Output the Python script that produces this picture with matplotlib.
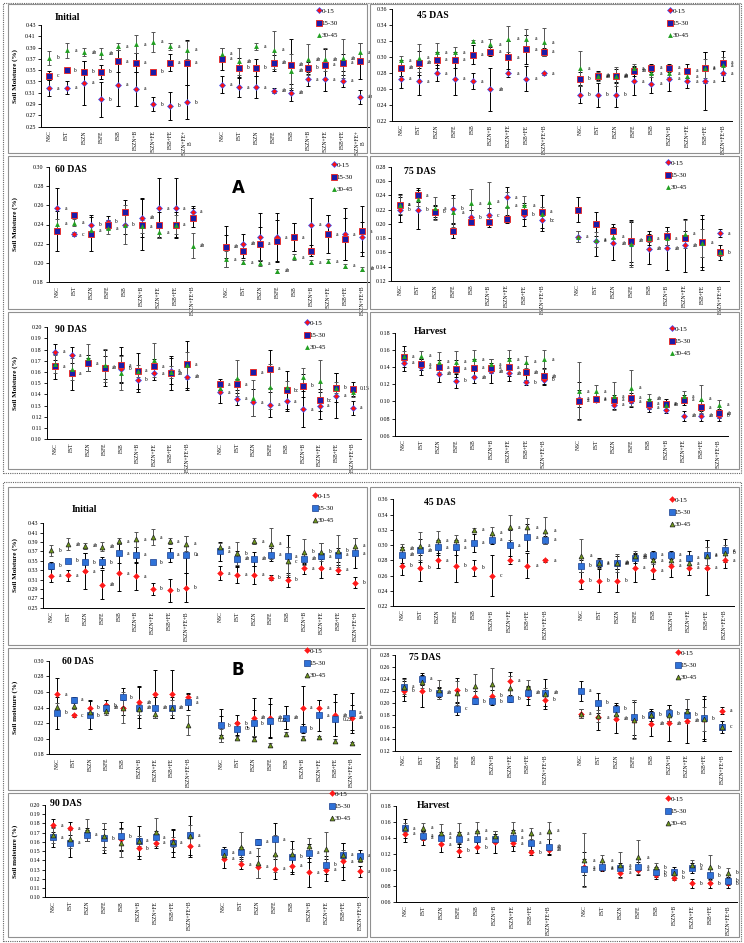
import matplotlib
matplotlib.use('Agg')
import matplotlib.pyplot as plt
from matplotlib.patches import Rectangle

plt.rcParams['font.family'] = ['Liberation Serif', 'DejaVu Serif']

# --- categories ---
cats = ['NSC', 'FST', 'FSZN', 'FSFE', 'FSB', 'FSZN+B', 'FSZN+FE', 'FSB+FE', 'FSZN+FE+B']
depths = ['0-15', '15-30', '30-45']

# --- Initial ---
ini_d1 = [0.318, 0.319, 0.328, 0.299, 0.324, 0.317, 0.290, 0.287, 0.293,
          0.324, 0.320, 0.320, 0.314, 0.310, 0.334, 0.334, 0.331, 0.303]
ini_e1 = [0.014, 0.012, 0.039, 0.031, 0.038, 0.030, 0.013, 0.025, 0.030,
          0.015, 0.018, 0.020, 0.005, 0.015, 0.012, 0.020, 0.010, 0.012]
ini_d2 = [0.340, 0.350, 0.347, 0.347, 0.366, 0.363, 0.347, 0.363, 0.363,
          0.370, 0.354, 0.354, 0.363, 0.360, 0.354, 0.360, 0.363, 0.366]
ini_e2 = [0.008, 0.003, 0.020, 0.012, 0.020, 0.017, 0.004, 0.015, 0.040,
          0.020, 0.017, 0.015, 0.014, 0.045, 0.010, 0.028, 0.015, 0.032]
ini_d3 = [0.372, 0.385, 0.382, 0.380, 0.392, 0.396, 0.400, 0.392, 0.386,
          0.379, 0.366, 0.392, 0.386, 0.349, 0.369, 0.369, 0.371, 0.382]
ini_e3 = [0.012, 0.013, 0.007, 0.010, 0.007, 0.016, 0.017, 0.007, 0.016,
          0.010, 0.024, 0.007, 0.033, 0.030, 0.028, 0.020, 0.035, 0.017]

# --- 45 DAS ---
d45_d1 = [0.273, 0.270, 0.280, 0.273, 0.270, 0.260, 0.280, 0.273, 0.280,
          0.253, 0.253, 0.253, 0.270, 0.267, 0.273, 0.270, 0.270, 0.280]
d45_e1 = [0.012, 0.017, 0.010, 0.021, 0.010, 0.027, 0.005, 0.016, 0.002,
          0.011, 0.015, 0.015, 0.018, 0.012, 0.015, 0.009, 0.036, 0.010]
d45_d2 = [0.287, 0.293, 0.297, 0.297, 0.303, 0.307, 0.300, 0.310, 0.307,
          0.273, 0.277, 0.277, 0.283, 0.287, 0.287, 0.283, 0.287, 0.293]
d45_e2 = [0.010, 0.015, 0.010, 0.010, 0.012, 0.006, 0.020, 0.018, 0.005,
          0.008, 0.006, 0.008, 0.006, 0.005, 0.005, 0.009, 0.019, 0.015]
d45_d3 = [0.296, 0.299, 0.306, 0.306, 0.320, 0.316, 0.323, 0.323, 0.319,
          0.286, 0.276, 0.276, 0.286, 0.280, 0.280, 0.276, 0.286, 0.290]
d45_e3 = [0.006, 0.018, 0.012, 0.007, 0.002, 0.007, 0.016, 0.012, 0.018,
          0.022, 0.006, 0.012, 0.006, 0.005, 0.005, 0.006, 0.012, 0.010]

# --- 60 DAS ---
d60_d1 = [0.257, 0.230, 0.240, 0.243, 0.240, 0.247, 0.257, 0.257, 0.253,
          0.217, 0.220, 0.227, 0.227, 0.227, 0.240, 0.240, 0.230, 0.227]
d60_e1 = [0.021, 0.002, 0.010, 0.006, 0.010, 0.020, 0.031, 0.031, 0.006,
          0.012, 0.010, 0.025, 0.025, 0.015, 0.027, 0.010, 0.027, 0.016]
d60_d2 = [0.233, 0.250, 0.230, 0.240, 0.253, 0.240, 0.240, 0.240, 0.247,
          0.217, 0.213, 0.220, 0.223, 0.227, 0.213, 0.230, 0.225, 0.233]
d60_e2 = [0.021, 0.003, 0.018, 0.005, 0.012, 0.026, 0.013, 0.013, 0.010,
          0.021, 0.008, 0.017, 0.022, 0.015, 0.006, 0.020, 0.022, 0.026]
d60_d3 = [0.241, 0.242, 0.234, 0.236, 0.240, 0.238, 0.232, 0.240, 0.218,
          0.204, 0.201, 0.200, 0.192, 0.206, 0.201, 0.202, 0.197, 0.194]
d60_e3 = [0.005, 0.004, 0.005, 0.006, 0.020, 0.007, 0.006, 0.010, 0.013,
          0.008, 0.002, 0.003, 0.002, 0.003, 0.002, 0.002, 0.002, 0.002]

# --- 75 DAS ---
d75_d1 = [0.220, 0.220, 0.217, 0.221, 0.209, 0.212, 0.237, 0.213, 0.205,
          0.182, 0.176, 0.173, 0.172, 0.165, 0.166, 0.170, 0.173, 0.187]
d75_e1 = [0.017, 0.027, 0.008, 0.020, 0.010, 0.010, 0.014, 0.016, 0.015,
          0.008, 0.021, 0.023, 0.030, 0.021, 0.030, 0.037, 0.034, 0.006]
d75_d2 = [0.227, 0.240, 0.217, 0.190, 0.203, 0.203, 0.207, 0.217, 0.217,
          0.220, 0.200, 0.190, 0.176, 0.180, 0.183, 0.180, 0.174, 0.160]
d75_e2 = [0.015, 0.010, 0.010, 0.010, 0.005, 0.007, 0.006, 0.010, 0.023,
          0.017, 0.017, 0.010, 0.029, 0.010, 0.013, 0.010, 0.038, 0.010]
d75_d3 = [0.227, 0.235, 0.222, 0.216, 0.229, 0.231, 0.225, 0.226, 0.214,
          0.182, 0.178, 0.182, 0.172, 0.180, 0.180, 0.186, 0.173, 0.160]
d75_e3 = [0.013, 0.010, 0.016, 0.020, 0.020, 0.027, 0.020, 0.013, 0.010,
          0.008, 0.010, 0.010, 0.032, 0.005, 0.010, 0.020, 0.020, 0.005]

# --- 90 DAS ---
d90_d1 = [0.178, 0.175, 0.167, 0.164, 0.163, 0.153, 0.159, 0.161, 0.156,
          0.142, 0.136, 0.133, 0.131, 0.134, 0.127, 0.130, 0.139, 0.128]
d90_e1 = [0.007, 0.007, 0.006, 0.016, 0.012, 0.011, 0.006, 0.012, 0.012,
          0.010, 0.005, 0.012, 0.011, 0.009, 0.016, 0.012, 0.020, 0.006]
d90_d2 = [0.165, 0.159, 0.168, 0.164, 0.166, 0.161, 0.165, 0.159, 0.167,
          0.149, 0.149, 0.160, 0.163, 0.144, 0.148, 0.135, 0.146, 0.145]
d90_e2 = [0.011, 0.015, 0.007, 0.010, 0.016, 0.016, 0.007, 0.015, 0.021,
          0.005, 0.005, 0.003, 0.017, 0.017, 0.010, 0.010, 0.013, 0.006]
d90_d3 = [0.167, 0.163, 0.173, 0.166, 0.159, 0.161, 0.171, 0.160, 0.166,
          0.146, 0.155, 0.137, 0.147, 0.147, 0.156, 0.152, 0.146, 0.142]
d90_e3 = [0.008, 0.010, 0.012, 0.015, 0.015, 0.005, 0.015, 0.005, 0.012,
          0.005, 0.016, 0.016, 0.020, 0.005, 0.008, 0.019, 0.005, 0.004]

# --- Harvest ---
hv_d1 = [0.145, 0.140, 0.132, 0.124, 0.128, 0.135, 0.133, 0.122, 0.125,
         0.103, 0.102, 0.096, 0.100, 0.093, 0.090, 0.083, 0.083, 0.083]
hv_e1 = [0.010, 0.009, 0.010, 0.008, 0.007, 0.014, 0.009, 0.003, 0.005,
         0.010, 0.003, 0.005, 0.006, 0.005, 0.003, 0.006, 0.006, 0.006]
hv_d2 = [0.152, 0.143, 0.140, 0.138, 0.139, 0.139, 0.140, 0.134, 0.129,
         0.101, 0.103, 0.102, 0.104, 0.097, 0.097, 0.102, 0.093, 0.086]
hv_e2 = [0.012, 0.006, 0.008, 0.010, 0.010, 0.006, 0.010, 0.010, 0.010,
         0.021, 0.003, 0.006, 0.006, 0.006, 0.006, 0.006, 0.008, 0.005]
hv_d3 = [0.153, 0.153, 0.146, 0.146, 0.149, 0.143, 0.149, 0.146, 0.149,
         0.112, 0.112, 0.106, 0.116, 0.103, 0.096, 0.106, 0.103, 0.096]
hv_e3 = [0.006, 0.006, 0.012, 0.013, 0.011, 0.006, 0.011, 0.007, 0.011,
         0.034, 0.007, 0.016, 0.021, 0.006, 0.003, 0.006, 0.016, 0.006]

# --- significance letters (0-15 / 15-30 / 30-45), '-' = none ---
ini_la = ["a a a b a a b b b a a a ab ab a a a ab",
          "c b b b a a b a a a b b ab ab b a a a",
          "b a ab ab a a a a a a ab a a ab ab ab ab a"]
ini_lb = ["a a a ab a a b b b a a a b b a a a b",
          "b b b b a a b a 0a a ab ab a a ab a a a",
          "b ab ab ab a a a a a a b a a c b b b a"]
d45_la = ["a a a a a ab a a a b b b a a a a a a",
          "ab ab a a a a a a a b ab ab ab a a a a a",
          "a a a a a a a a a a ab ab a a a a a a"]
d45_lb = ["b b a b b c a a a b b b a a a a a a",
          "ab ab a a a a a a a b a ab ab a a a a a",
          "ab a a a a a a a a a a ab ab a a a a b"]
d60_la = ["a c b b b ab a a a - ab - a - a - a -",
          "- - - - - - - a - ab - a - a - a - a",
          "a a a a - a a - ab a a a ab a a a a ab"]
d60_lb = ["a c b b - ab - - a - b ab ab - a a ab ab",
          "b a b ab b ab ab ab a b 0b b 0.22 ab b a 0.22 a",
          "- - - - - - - - - - - - - - - - - -"]
d75_la = ["b b b b b c a b bc - a ab - ab ab ab - a",
          "a a - - - - - - a - - - ab - - - a b",
          "a - a a a a a a - a a a - a a a - -"]
d75_lb = ["b b - b - b a - b - a ab - ab ab ab - a",
          "a a ab c b b b ab ab a b b b b b b b c",
          "- - - - - - - - - a - - - - - - - -"]
d90_la = ["a a - ab b b a a ab a a a a a a a a a",
          "a a a - a a a ab a a a a a bc b bc b 0.15",
          "- - - - - - - - - - - - - - - - - -"]
d90_lb = ["a a - - - b a - a a a a a a a a a a",
          "a a a b b a a a a a a a a b a b a a",
          "- - - - - - - - - - - - - - - - - -"]
hv_la = ["a a ab b ab ab ab b b a a a a a - ab ab b",
         "a a a a a a a ab ab a a a a a a a a ab",
         "- a a a a a a a a a a a a ab ab a a a"]
hv_lb = ["a a a b b - a b ab a a a a b b b b b",
         "a a a a a - a a ab a a a a b b a b b",
         "- a a a a - a a a a a a a b - b b b"]

W, H = 744, 943
fig = plt.figure(figsize=(W / 100, H / 100), dpi=100)

xpos = list(range(9)) + list(range(10, 19))

STYLE_A = [dict(marker='D', ms=3.0, mfc='#ff1010', mec='#3355ff', mew=0.5),
           dict(marker='s', ms=4.3, mfc='#1c1ca8', mec='#e53030', mew=0.7),
           dict(marker='^', ms=3.5, mfc='#22a022', mec='#22a022', mew=0.0)]
STYLE_B = [dict(marker='D', ms=3.0, mfc='#ff1a1a', mec='#ff1a1a', mew=0.3),
           dict(marker='s', ms=4.3, mfc='#2f72d8', mec='#1a3f8f', mew=0.5),
           dict(marker='^', ms=3.5, mfc='#6f9a1a', mec='#202020', mew=0.5)]


def rect(x0, y0, x1, y1, **kw):
    fig.patches.append(Rectangle((x0 / W, 1 - y1 / H), (x1 - x0) / W, (y1 - y0) / H,
                                 transform=fig.transFigure, fill=False, **kw))


def panel(box, ylim, yticks, series, errs, letters, style, title, title_xy, leg_xy,
          ylabel=None, xlabels=None):
    L, T, R, B = box
    ax = fig.add_axes([L / W, 1 - B / H, (R - L) / W, (B - T) / H])
    ax.patch.set_alpha(0)
    handles = []
    for k in range(3):
        st = style[k]
        ecol = '#555555' if k == 2 else 'black'
        ax.errorbar(xpos, series[k], yerr=errs[k], fmt='none', ecolor=ecol,
                    elinewidth=0.7, capsize=1.4, capthick=0.7, zorder=2 + k)
        h, = ax.plot(xpos, series[k], linestyle='none', zorder=5 + k, **st)
        handles.append(h)
        toks = letters[k].split()
        for x, y, t in zip(xpos, series[k], toks):
            if t != '-':
                ax.text(x + 0.45, y, t, fontsize=4.0, va='center', ha='left', zorder=9)
    ax.set_xlim(-0.5, 18.5)
    ax.set_ylim(*ylim)
    ax.set_yticks(yticks)
    ax.set_yticklabels(['%.2f' % v for v in yticks], fontsize=4.3)
    ax.set_xticks(xpos)
    ax.set_xticklabels(xlabels or (cats + cats), rotation=90, fontsize=4.0)
    ax.tick_params(axis='x', length=0, pad=2.5)
    ax.tick_params(axis='y', length=2, width=0.6, pad=1.5)
    for s in ['top', 'right']:
        ax.spines[s].set_visible(False)
    for s in ['left', 'bottom']:
        ax.spines[s].set_linewidth(0.7)
    fig.text(title_xy[0] / W, 1 - title_xy[1] / H, title, fontsize=7, fontweight='bold',
             ha='left', va='center')
    if ylabel:
        fig.text(15 / W, 1 - (T + B) / 2 / H, ylabel, fontsize=5, fontweight='bold',
                 rotation=90, ha='center', va='center')
    fig.legend(handles, depths, loc='upper left', bbox_to_anchor=(leg_xy[0] / W, 1 - leg_xy[1] / H),
               frameon=False, fontsize=5, handlelength=0.6, handletextpad=0.1,
               labelspacing=0.9, borderpad=0, borderaxespad=0)
    return ax


def ticks(lo, hi, step):
    n = int(round((hi - lo) / step))
    return [round(lo + i * step, 2) for i in range(n + 1)]


# frames
rect(3, 3, 741, 473, lw=0.8, ls=(0, (1, 1)), edgecolor='#666666')
rect(3, 482, 741, 941, lw=0.8, ls=(0, (1, 1)), edgecolor='#666666')
for (t, b) in [(4, 153), (156, 309), (312, 469), (487, 645), (648, 790), (793, 937)]:
    rect(8, t, 367, b, lw=0.8, edgecolor='#909090')
    rect(370, t, 739, b, lw=0.8, edgecolor='#909090')

stages = [
    ((0.25, 0.43), ticks(0.25, 0.43, 0.02), (ini_d1, ini_d2, ini_d3), (ini_e1, ini_e2, ini_e3), ini_la, ini_lb, 'Initial'),
    ((0.22, 0.36), ticks(0.22, 0.36, 0.02), (d45_d1, d45_d2, d45_d3), (d45_e1, d45_e2, d45_e3), d45_la, d45_lb, '45 DAS'),
    ((0.18, 0.30), ticks(0.18, 0.30, 0.02), (d60_d1, d60_d2, d60_d3), (d60_e1, d60_e2, d60_e3), d60_la, d60_lb, '60 DAS'),
    ((0.12, 0.28), ticks(0.12, 0.28, 0.02), (d75_d1, d75_d2, d75_d3), (d75_e1, d75_e2, d75_e3), d75_la, d75_lb, '75 DAS'),
    ((0.10, 0.20), ticks(0.10, 0.20, 0.01), (d90_d1, d90_d2, d90_d3), (d90_e1, d90_e2, d90_e3), d90_la, d90_lb, '90 DAS'),
    ((0.06, 0.18), ticks(0.06, 0.18, 0.02), (hv_d1, hv_d2, hv_d3), (hv_e1, hv_e2, hv_e3), hv_la, hv_lb, 'Harvest'),
]

boxes_a = [(40.7, 25, 368.6, 126.7), (392, 9.3, 732, 121), (48.5, 166.7, 370.5, 282.3),
           (391, 166.7, 729, 281), (46.7, 327.3, 361, 439.3), (395, 332.7, 727.5, 435.7)]
boxes_b = [(43, 523.3, 363.5, 607.7), (393, 499.3, 733.6, 606), (49, 660.7, 360, 754.3),
           (395, 655, 731, 750.7), (44.8, 805, 368.5, 897.3), (396, 806, 737, 901.7)]
titles_a = [(55, 18), (417, 15), (55, 170), (404, 171), (55, 330), (414, 331)]
titles_b = [(72, 510), (424, 503), (62, 661), (409, 658), (50, 803), (417, 805)]
legs_a = [(317, 8), (668, 8), (332, 162), (666, 160), (305, 320), (670, 326)]
legs_b = [(313, 493), (670, 497), (305, 648), (676, 650), (330, 791), (666, 796)]
ylab_a = ['Soil Moisture (%)', None, 'Soil Moisture (%)', None, 'Soil Moisture (%)', None]
ylab_b = ['Soil Moisture (%)', None, 'Soil moisture (%)', None, 'Soil moisture (%)', None]
# the first chart of panel A wraps its last category label
wrapped = cats[:-1] + ['FSZN+FE+\nB']
xlab_a = [wrapped + wrapped, None, None, None, None, None]

for i, (ylim, yt, ser, err, la, lb, name) in enumerate(stages):
    panel(boxes_a[i], ylim, yt, ser, err, la, STYLE_A, name, titles_a[i], legs_a[i],
          ylab_a[i], xlab_a[i])
    panel(boxes_b[i], ylim, yt, ser, err, lb, STYLE_B, name, titles_b[i], legs_b[i],
          ylab_b[i])

fig.text(238 / W, 1 - 188 / H, 'A', fontsize=12, fontweight='bold', family='DejaVu Sans',
         ha='center', va='center')
fig.text(238 / W, 1 - 670 / H, 'B', fontsize=12, fontweight='bold', family='DejaVu Sans',
         ha='center', va='center')

fig.savefig('out.png', dpi=100)
